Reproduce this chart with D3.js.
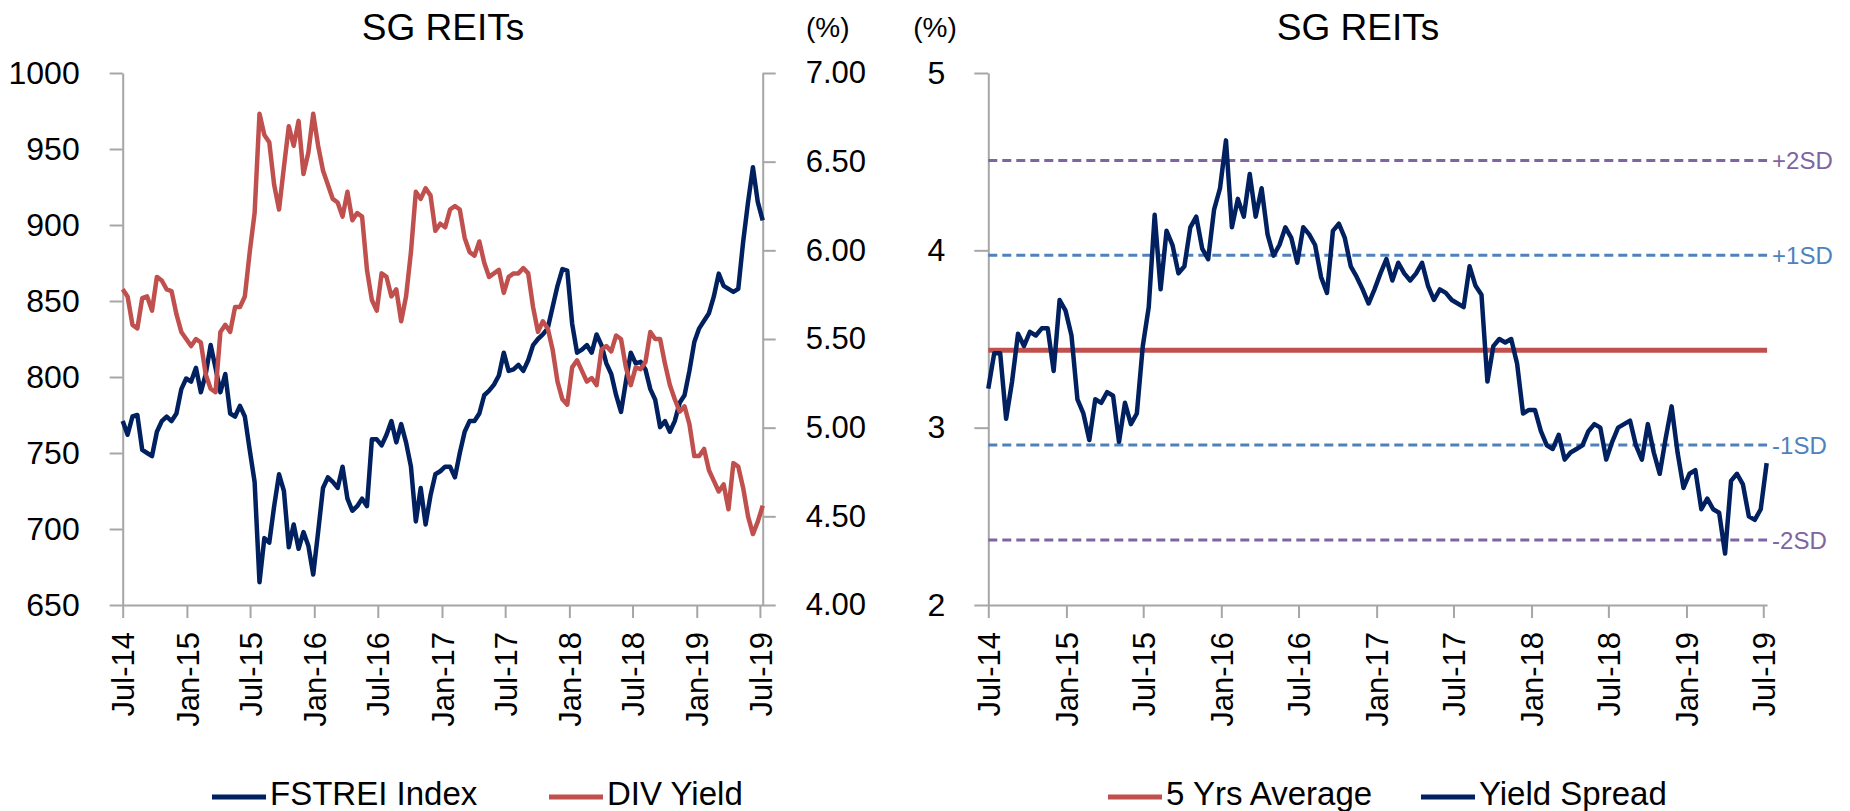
<!DOCTYPE html>
<html><head><meta charset="utf-8">
<script src="https://cdn.jsdelivr.net/npm/d3@7"></script>
<style>
body{margin:0;background:#fff;}
svg{display:block;font-family:"Liberation Sans",Arial,sans-serif;}
</style></head><body>
<svg id="chart" width="1850" height="811"></svg>
<script>
// ---------------- DATA ----------------
const startDate = "2014-07-01";
const stepDays = 14;

const fstreiIndex = [771,762,774,775,752,750,748,764,771,774,771,776,792,799,797,806,790,802,821,806,
790,802,776,774,781,774,752,731,665,694,691,715,736,725,688,703,687,698,689,670,
698,727,734,731,727,741,720,712,715,720,715,759,759,755,762,771,757,769,757,741,
705,727,703,722,736,738,741,741,734,750,764,771,771,776,788,791,795,801,816,804,
805,808,804,811,821,825,828,832,846,860,871,870,835,816,818,821,816,828,821,809,
802,788,777,797,816,809,810,805,792,785,767,771,764,771,783,788,804,823,832,837,
842,853,868,860,858,856,858,889,915,938,915,903];

const divYield = [5.78,5.74,5.58,5.56,5.73,5.74,5.66,5.85,5.83,5.78,5.77,5.64,5.54,5.50,5.46,5.50,5.48,5.30,5.22,5.20,
5.54,5.58,5.54,5.68,5.68,5.74,5.99,6.21,6.77,6.65,6.61,6.37,6.23,6.47,6.70,6.59,6.73,6.43,6.55,6.77,
6.59,6.45,6.37,6.29,6.27,6.19,6.33,6.17,6.21,6.19,5.89,5.72,5.66,5.87,5.85,5.74,5.78,5.60,5.74,5.99,
6.33,6.29,6.35,6.31,6.11,6.15,6.13,6.23,6.25,6.23,6.07,5.99,5.97,6.05,5.93,5.85,5.87,5.89,5.76,5.85,
5.87,5.87,5.90,5.87,5.68,5.54,5.60,5.56,5.44,5.26,5.16,5.13,5.34,5.38,5.32,5.26,5.28,5.24,5.44,5.46,
5.43,5.52,5.50,5.34,5.24,5.34,5.33,5.37,5.54,5.50,5.50,5.36,5.24,5.16,5.09,5.12,5.02,4.84,4.84,4.88,
4.76,4.70,4.64,4.68,4.54,4.80,4.78,4.66,4.50,4.40,4.47,4.56];

const yieldSpread = [3.22,3.42,3.42,3.05,3.26,3.53,3.46,3.54,3.52,3.56,3.56,3.32,3.72,3.66,3.52,3.16,3.08,2.93,3.16,3.14,
3.20,3.18,2.92,3.14,3.02,3.08,3.46,3.68,4.20,3.78,4.11,4.03,3.87,3.91,4.13,4.19,4.01,3.95,4.23,4.35,
4.62,4.13,4.29,4.19,4.43,4.19,4.35,4.09,3.97,4.03,4.13,4.07,3.93,4.13,4.09,4.03,3.85,3.76,4.11,4.15,
4.07,3.91,3.85,3.78,3.70,3.78,3.87,3.95,3.83,3.93,3.87,3.83,3.87,3.93,3.80,3.72,3.78,3.76,3.72,3.70,
3.68,3.91,3.80,3.75,3.26,3.46,3.50,3.48,3.50,3.36,3.08,3.10,3.10,2.98,2.90,2.88,2.96,2.82,2.86,2.88,
2.90,2.98,3.02,3.00,2.82,2.92,3.00,3.02,3.04,2.90,2.82,3.02,2.86,2.74,2.94,3.12,2.86,2.66,2.74,2.76,
2.54,2.60,2.54,2.52,2.29,2.70,2.74,2.68,2.50,2.48,2.54,2.80];

const fiveYrAverage = 3.437;
const sdLabels = ["+2SD","+1SD","-1SD","-2SD"];
const sdValues = [4.507,3.972,2.902,2.367];

const xTickDates = ["2014-07-01","2015-01-01","2015-07-01","2016-01-01","2016-07-01","2017-01-01",
"2017-07-01","2018-01-01","2018-07-01","2019-01-01","2019-07-01"];
const xTickLabels = ["Jul-14","Jan-15","Jul-15","Jan-16","Jul-16","Jan-17","Jul-17","Jan-18","Jul-18","Jan-19","Jul-19"];
const leftTicks = [650,700,750,800,850,900,950,1000];
const rightTicks = [4.0,4.5,5.0,5.5,6.0,6.5,7.0];
const spreadTicks = [2,3,4,5];

const leftTitle = "SG REITs", rightTitle = "SG REITs", unitLabel = "(%)";
const leftLegend = ["FSTREI Index","DIV Yield"];
const rightLegend = ["5 Yrs Average","Yield Spread"];

// ---------------- STYLE ----------------
const NAVY = "#002060", RED = "#C0504D", PURPLE = "#8064A2", BLUE = "#4F81BD", AXIS = "#a6a6a6";
const sdColors = [PURPLE, BLUE, BLUE, PURPLE];

const parse = d3.utcParse("%Y-%m-%d");
const t0 = parse(startDate);
const dates = fstreiIndex.map((_, k) => d3.utcDay.offset(t0, k * stepDays));
const tickDates = xTickDates.map(parse);

const svg = d3.select("#chart");
const TOP = 73, BOT = 605;

function styleAxis(g, fs) {
  g.select(".domain").attr("stroke", AXIS).attr("stroke-width", 2);
  g.selectAll(".tick line").attr("stroke", AXIS).attr("stroke-width", 2);
  g.selectAll(".tick text").attr("fill", "#000").style("font-size", fs + "px").style("font-family", '"Liberation Sans",Arial,sans-serif');
}

function xAxis(x) {
  const g = svg.append("g").attr("transform", `translate(0,${BOT})`)
    .call(d3.axisBottom(x).tickValues(tickDates).tickSizeInner(13).tickSizeOuter(0)
      .tickFormat((d, i) => xTickLabels[i]));
  styleAxis(g, 31);
  g.selectAll(".tick text").attr("transform", "rotate(-90)").attr("text-anchor", "end")
    .attr("x", -27).attr("y", 0).attr("dy", "0.36em");
  return g;
}

// ---------------- LEFT CHART ----------------
{
  const x = d3.scaleUtc().domain([t0, d3.utcDay.offset(t0, 1834)]).range([122.7, 762.7]);
  const yL = d3.scaleLinear().domain([650, 1000]).range([BOT, TOP]);
  const yR = d3.scaleLinear().domain([4, 7]).range([BOT, TOP]);

  xAxis(x);
  const gl = svg.append("g").attr("transform", `translate(${x.range()[0]},0)`)
    .call(d3.axisLeft(yL).tickValues(leftTicks).tickSizeInner(13).tickSizeOuter(0).tickPadding(30).tickFormat(d3.format("d")));
  styleAxis(gl, 32);
  const gr = svg.append("g").attr("transform", `translate(${x.range()[1]},0)`)
    .call(d3.axisRight(yR).tickValues(rightTicks).tickSizeInner(13).tickSizeOuter(0).tickPadding(30).tickFormat(d3.format(".2f")));
  styleAxis(gr, 31);

  const lineIdx = d3.line().x((d, i) => x(dates[i])).y(d => yL(d));
  const lineYld = d3.line().x((d, i) => x(dates[i])).y(d => yR(d));
  svg.append("path").datum(fstreiIndex).attr("d", lineIdx).attr("fill", "none")
    .attr("stroke", NAVY).attr("stroke-width", 4.5).attr("stroke-linejoin", "round");
  svg.append("path").datum(divYield).attr("d", lineYld).attr("fill", "none")
    .attr("stroke", RED).attr("stroke-width", 4.5).attr("stroke-linejoin", "round");

  svg.append("text").attr("x", 443).attr("y", 40).attr("text-anchor", "middle")
    .style("font-size", "37px").text(leftTitle);
  svg.append("text").attr("x", 806).attr("y", 37).style("font-size", "28px").text(unitLabel);

  const leg = [{t: leftLegend[0], c: NAVY, x: 212}, {t: leftLegend[1], c: RED, x: 549}];
  leg.forEach(l => {
    svg.append("line").attr("x1", l.x).attr("x2", l.x + 54).attr("y1", 797).attr("y2", 797)
      .attr("stroke", l.c).attr("stroke-width", 5);
    svg.append("text").attr("x", l.x + 58).attr("y", 805).style("font-size", "33px").text(l.t);
  });
}

// ---------------- RIGHT CHART ----------------
{
  const x = d3.scaleUtc().domain([t0, d3.utcDay.offset(t0, 1835)]).range([988.3, 1767.1]);
  const y = d3.scaleLinear().domain([2, 5]).range([BOT, TOP]);

  xAxis(x);
  const gl = svg.append("g").attr("transform", `translate(${x.range()[0]},0)`)
    .call(d3.axisLeft(y).tickValues(spreadTicks).tickSizeInner(14).tickSizeOuter(0).tickPadding(29).tickFormat(d3.format("d")));
  styleAxis(gl, 32);

  sdValues.forEach((v, i) => {
    svg.append("line").attr("x1", x.range()[0]).attr("x2", x.range()[1])
      .attr("y1", y(v)).attr("y2", y(v)).attr("stroke", sdColors[i]).attr("stroke-width", 3)
      .attr("stroke-dasharray", "9,5");
    svg.append("text").attr("x", x.range()[1] + 5).attr("y", y(v)).attr("dy", "0.36em")
      .attr("fill", sdColors[i]).style("font-size", "24px").text(sdLabels[i]);
  });
  svg.append("line").attr("x1", x.range()[0]).attr("x2", x.range()[1])
    .attr("y1", y(fiveYrAverage)).attr("y2", y(fiveYrAverage)).attr("stroke", RED).attr("stroke-width", 5);

  const line = d3.line().x((d, i) => x(dates[i])).y(d => y(d));
  svg.append("path").datum(yieldSpread).attr("d", line).attr("fill", "none")
    .attr("stroke", NAVY).attr("stroke-width", 4.5).attr("stroke-linejoin", "round");

  svg.append("text").attr("x", 1358).attr("y", 40).attr("text-anchor", "middle")
    .style("font-size", "37px").text(rightTitle);
  svg.append("text").attr("x", 935).attr("y", 37).attr("text-anchor", "middle").style("font-size", "28px").text(unitLabel);

  const leg = [{t: rightLegend[0], c: RED, x: 1108}, {t: rightLegend[1], c: NAVY, x: 1421}];
  leg.forEach(l => {
    svg.append("line").attr("x1", l.x).attr("x2", l.x + 54).attr("y1", 797).attr("y2", 797)
      .attr("stroke", l.c).attr("stroke-width", 5);
    svg.append("text").attr("x", l.x + 58).attr("y", 805).style("font-size", "33px").text(l.t);
  });
}
</script>
</body></html>
